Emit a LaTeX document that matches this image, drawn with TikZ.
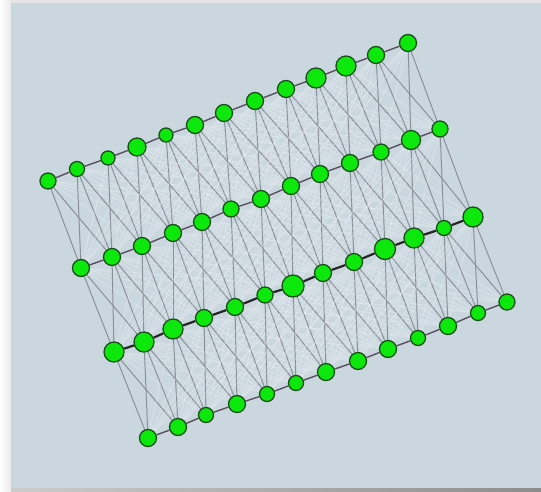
\documentclass[tikz,border=0pt]{standalone}
\usetikzlibrary{backgrounds}
\definecolor{panel}{HTML}{CBD7DF}
\definecolor{ballfill}{HTML}{0CE80C}
\definecolor{balledge}{HTML}{1A4F1A}
\definecolor{chain}{HTML}{5A4F5F}
\definecolor{rungcol}{HTML}{8A9098}
\tikzset{
  ball/.style={circle,draw=balledge,fill=ballfill,line width=1.3pt,inner sep=0pt},
  chainline/.style={chain,line width=1.4pt},
  thickchain/.style={black!85,line width=2.2pt},
  rung/.style={rungcol,line width=1pt},
  ghost/.style={white,opacity=0.25,line width=0.9pt}
}
\begin{document}
\begin{tikzpicture}[x=1pt,y=-1pt]
\useasboundingbox (0,0) rectangle (541,491);
% four rows of balls
\foreach [count=\i] \x/\y/\r in {48/181/8,77/169/7.5,108/158/7,137/147/9,166/135/7,195/125/8.5,224/113/8.5,255/101/8.5,286/89/8.5,316/78/10,346/66/10,376/55/8.5,408/43/8.5}
  \node[ball,minimum size=\r*2pt] (a\i) at (\x,\y) {};
\foreach [count=\i] \x/\y/\r in {81/268/8.5,112/257/8.5,142/246/8.5,173/233/8.5,202/222/8.5,231/209/8,261/199/8.5,291/186/8.5,320/174/8.5,350/163/8.5,381/152/8,411/140/9.5,440/129/8}
  \node[ball,minimum size=\r*2pt] (b\i) at (\x,\y) {};
\foreach [count=\i] \x/\y/\r in {114/352/10,144/342/10,173/329/10,204/318/8.5,235/307/8.5,265/295/8,293/286/11,323/273/8.5,354/262/8.5,385/249/10.5,414/238/10,444/228/7.5,473/217/10}
  \node[ball,minimum size=\r*2pt] (c\i) at (\x,\y) {};
\foreach [count=\i] \x/\y/\r in {148/438/8.5,178/427/8.5,206/415/7.5,237/404/8.5,267/394/7.5,296/383/7.5,326/372/8.5,358/361/8.5,388/349/8.5,418/338/7.5,448/326/8.5,478/313/7.5,507/302/8}
  \node[ball,minimum size=\r*2pt] (d\i) at (\x,\y) {};
\begin{scope}[on background layer]
% frame
\fill[white!97!black] (0,0) rectangle (541,491);
\shade[left color=white,right color=white!92!black] (0,0) rectangle (11,491);
\fill[white!90!black] (11,0) rectangle (541,3);
\fill[panel] (11,3) rectangle (541,488);
\shade[left color=white!80!black,right color=white!55!black] (11,488) rectangle (541,491);
% links between rows
\foreach \u/\l in {a/b,b/c,c/d}{
  \foreach \i in {1,...,13}{
    \foreach \d in {-6,-5,-4,-3,-2,2,3,4,5,6}{
      \pgfmathtruncatemacro\j{\i+\d}
      \ifnum\j>0 \ifnum\j<14 \draw[ghost] (\u\i) -- (\l\j); \fi\fi
    }
    \foreach \d in {-1,0,1}{
      \pgfmathtruncatemacro\j{\i+\d}
      \ifnum\j>0 \ifnum\j<14 \draw[rung] (\u\i) -- (\l\j); \fi\fi
    }
  }
}
% chains along the rows
\foreach \i [evaluate=\i as \k using int(\i+1)] in {1,...,12}{
  \draw[chainline] (a\i) -- (a\k);
  \draw[chainline] (b\i) -- (b\k);
  \draw[thickchain] (c\i) -- (c\k);
  \draw[chainline] (d\i) -- (d\k);
}
\end{scope}
\end{tikzpicture}
\end{document}
